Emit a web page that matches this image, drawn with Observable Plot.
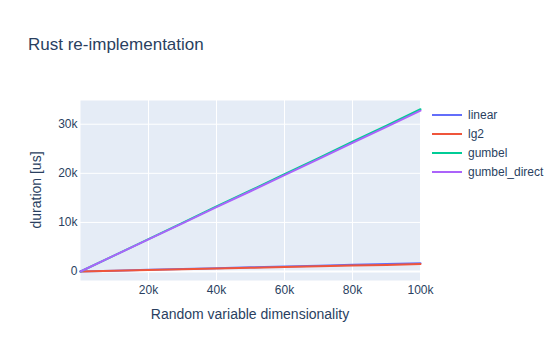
<!DOCTYPE html>
<html>
<head>
<meta charset="utf-8">
<script src="https://cdn.jsdelivr.net/npm/d3@7"></script>
<script src="https://cdn.jsdelivr.net/npm/@observablehq/plot@0.6"></script>
<style>
  html, body { margin: 0; padding: 0; background: #fff; }
  #wrap { position: relative; width: 560px; height: 360px; font-family: "Liberation Sans", Arial, sans-serif; color: #2a3f5f; }
  #wrap svg { position: absolute; left: 0; top: 0; }
  .lbl { position: absolute; white-space: nowrap; }
  #legend { position: absolute; left: 432px; top: 105px; font-size: 12px; }
  .item { height: 19px; display: flex; align-items: center; }
  .swatch { width: 30px; height: 2px; margin-right: 6px; }
</style>
</head>
<body>
<div id="wrap"></div>
<script>
const dims = [10, 10000, 20000, 30000, 40000, 50000, 60000, 70000, 80000, 90000, 100000];
const linear = [1, 170, 340, 510, 680, 850, 1020, 1190, 1360, 1530, 1700];
const lg2 = [1, 150, 300, 450, 600, 750, 900, 1050, 1200, 1350, 1550];
const gumbel = [3, 3300, 6600, 9900, 13250, 16500, 19850, 23100, 26450, 29700, 33050];
const gumbelDirect = [3, 3270, 6540, 9810, 13100, 16350, 19650, 22900, 26200, 29450, 32750];
const seriesNames = ["linear", "lg2", "gumbel", "gumbel_direct"];
const seriesValues = [linear, lg2, gumbel, gumbelDirect];
const colors = ["#636efa", "#EF553B", "#00cc96", "#ab63fa"];
const xTicks = [20000, 40000, 60000, 80000, 100000];
const yTicks = [0, 10000, 20000, 30000];

const rows = [];
seriesNames.forEach((name, i) => dims.forEach((d, j) => rows.push({series: name, x: d, y: seriesValues[i][j]})));

const fmt = v => v === 0 ? "0" : (v / 1000) + "k";

const chart = Plot.plot({
  width: 560, height: 360,
  marginLeft: 80, marginRight: 140, marginTop: 100, marginBottom: 80,
  style: {fontFamily: '"Liberation Sans", Arial, sans-serif', fontSize: "12px", color: "#2a3f5f", background: "transparent"},
  x: {domain: [10, 100000], label: null},
  y: {domain: [-1830, 34830], label: null},
  color: {domain: seriesNames, range: colors},
  marks: [
    Plot.frame({fill: "#e5ecf6", stroke: null}),
    Plot.gridX(xTicks, {stroke: "#fff", strokeOpacity: 1, strokeWidth: 1}),
    Plot.gridY(yTicks, {stroke: "#fff", strokeOpacity: 1, strokeWidth: 1}),
    Plot.ruleY([0], {stroke: "#fff", strokeWidth: 2}),
    Plot.line(rows, {x: "x", y: "y", z: "series", stroke: "series", strokeWidth: 2}),
    Plot.axisX({ticks: xTicks, tickFormat: fmt, tickSize: 0, tickPadding: 5, label: null, fill: "#2a3f5f"}),
    Plot.axisY({ticks: yTicks, tickFormat: fmt, tickSize: 0, tickPadding: 3, label: null, fill: "#2a3f5f"})
  ]
});

const wrap = document.getElementById("wrap");
wrap.appendChild(chart);

function addLabel(text, css) {
  const d = document.createElement("div");
  d.className = "lbl";
  d.textContent = text;
  Object.assign(d.style, css);
  wrap.appendChild(d);
  return d;
}
addLabel("Rust re-implementation", {left: "28px", top: "35px", fontSize: "17px"});
addLabel("Random variable dimensionality", {left: "250px", top: "306px", fontSize: "14px", transform: "translateX(-50%)"});
addLabel("duration [us]", {left: "36px", top: "190px", fontSize: "14px", transform: "translate(-50%, -50%) rotate(-90deg)"});

const legend = document.createElement("div");
legend.id = "legend";
seriesNames.forEach((n, i) => {
  const it = document.createElement("div");
  it.className = "item";
  const sw = document.createElement("div");
  sw.className = "swatch";
  sw.style.background = colors[i];
  const t = document.createElement("span");
  t.textContent = n;
  it.appendChild(sw); it.appendChild(t);
  legend.appendChild(it);
});
wrap.appendChild(legend);
</script>
</body>
</html>
